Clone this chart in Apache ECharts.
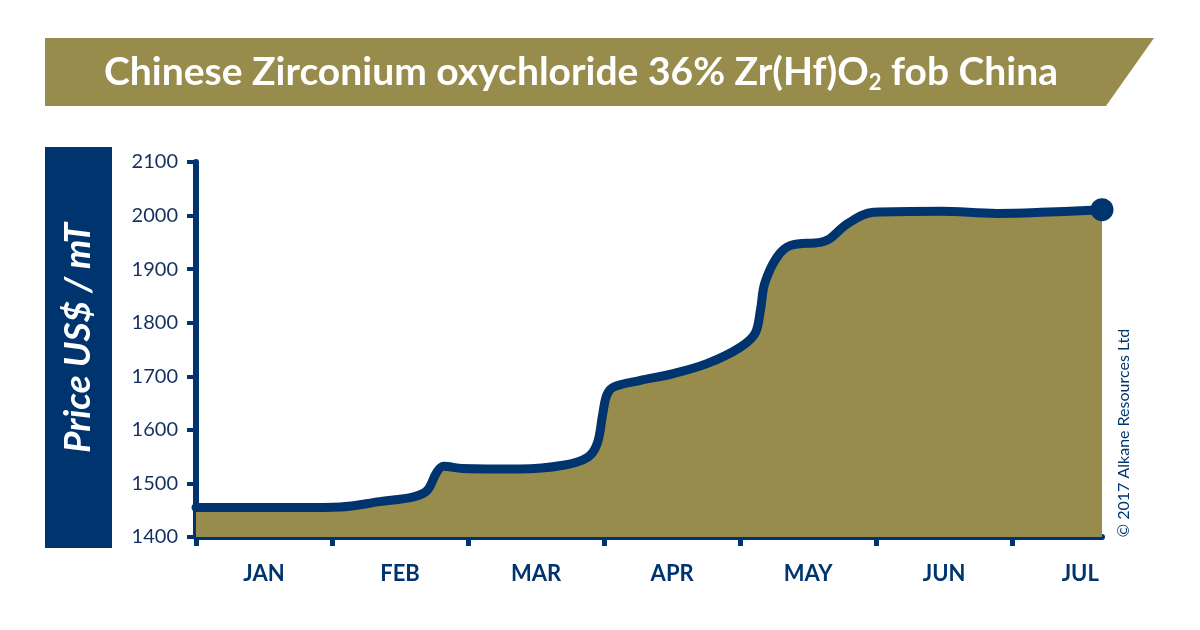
<!DOCTYPE html>
<html>
<head>
<meta charset="utf-8">
<script src="https://cdn.jsdelivr.net/npm/echarts@6/dist/echarts.min.js"></script>
<style>html,body{margin:0;padding:0;background:#fff}#c{width:1200px;height:630px}</style>
</head>
<body>
<div id="c"></div>
<script>
// ---- data ----
const months = ['JAN', 'FEB', 'MAR', 'APR', 'MAY', 'JUN', 'JUL'];
const monthTicks = [0, 1, 2, 3, 4, 5, 6];
const monthLabelPos = [0.5, 1.5, 2.5, 3.5, 4.5, 5.5, 6.5];
// time in months since 1 Jan
const priceX = [0.00, 0.76, 1.06, 1.35, 1.60, 1.70, 1.77, 1.82, 1.96, 2.38, 2.70, 2.88, 2.95, 2.99, 3.02, 3.07, 3.26, 3.51, 3.76, 4.00, 4.11, 4.15, 4.18, 4.27, 4.37, 4.59, 4.66, 4.79, 4.98, 5.47, 5.89, 6.21, 6.66];
const priceY = [1455, 1455, 1456, 1466, 1475, 1487, 1521, 1532, 1528, 1527, 1534, 1549, 1575, 1630, 1665, 1680, 1692, 1705, 1724, 1754, 1780, 1825, 1873, 1922, 1944, 1950, 1957, 1985, 2006, 2008, 2004, 2006, 2011];
const yMin = 1400, yMax = 2100, yStep = 100;
const titleMain = 'Chinese Zirconium oxychloride 36% Zr(Hf)O';
const titleSub = '2';
const titleEnd = ' fob China';
const yTitle = 'Price US$ / mT';
const credit = '\u00A9 2017 Alkane Resources Ltd';

// ---- styles ----
const NAVY = '#00346f';
const OLIVE = '#988c4c';
const FONT = 'Lato, "Open Sans", sans-serif';

const series = priceX.map((x, i) => [x, priceY[i]]);
const last = series[series.length - 1];

const chart = echarts.init(document.getElementById('c'));
chart.setOption({
  animation: false,
  grid: { left: 196, right: 98, top: 162, bottom: 93, containLabel: false },
  xAxis: {
    type: 'value', min: 0, max: last[0],
    axisLine: { show: true, lineStyle: { color: NAVY, width: 6 } },
    axisTick: { show: true, customValues: monthTicks, length: 9, lineStyle: { color: NAVY, width: 5 } },
    axisLabel: {
      customValues: monthLabelPos,
      formatter: v => months[Math.floor(v)],
      color: NAVY, fontFamily: FONT, fontWeight: 'bold', fontSize: 22, margin: 26
    },
    splitLine: { show: false }
  },
  yAxis: {
    type: 'value', min: yMin, max: yMax, interval: yStep,
    axisLine: { show: true, lineStyle: { color: NAVY, width: 6 } },
    axisTick: { show: true, length: 9, lineStyle: { color: NAVY, width: 4 } },
    axisLabel: { color: '#16305e', fontFamily: FONT, fontSize: 20, margin: 18, formatter: v => String(v) },
    splitLine: { show: false }
  },
  series: [
    {
      type: 'line', data: series, smooth: 0.35,
      symbol: 'none',
      lineStyle: { color: NAVY, width: 9, cap: 'round', join: 'round' },
      areaStyle: { color: OLIVE, opacity: 1 },
      z: 2
    },
    {
      type: 'scatter', data: [last], symbol: 'circle', symbolSize: 23,
      itemStyle: { color: NAVY, opacity: 1 }, z: 3
    }
  ],
  graphic: [
    { type: 'polygon', shape: { points: [[45, 38], [1154, 38], [1106, 106], [45, 106]] }, style: { fill: OLIVE } },
    {
      type: 'text', x: 581, y: 72,
      style: {
        text: '{a|' + titleMain + '}{s|' + titleSub + '}{a|' + titleEnd + '}',
        align: 'center', verticalAlign: 'middle',
        rich: {
          a: { fontFamily: FONT, fontWeight: 'bold', fontSize: 39, fill: '#fff', lineHeight: 44 },
          s: { fontFamily: FONT, fontWeight: 'bold', fontSize: 22, fill: '#fff', lineHeight: 22, verticalAlign: 'bottom' }
        }
      }
    },
    { type: 'rect', shape: { x: 45, y: 147, width: 67, height: 401 }, style: { fill: NAVY } },
    {
      type: 'text', x: 78, y: 338, rotation: Math.PI / 2,
      style: { text: yTitle, fill: '#fff', fontFamily: FONT, fontStyle: 'italic', fontWeight: 'bold', fontSize: 37, align: 'center', verticalAlign: 'middle' }
    },
    {
      type: 'text', x: 1124, y: 433, rotation: Math.PI / 2,
      style: { text: credit, fill: NAVY, fontFamily: FONT, fontSize: 16, align: 'center', verticalAlign: 'middle' }
    }
  ]
});
</script>
</body>
</html>
